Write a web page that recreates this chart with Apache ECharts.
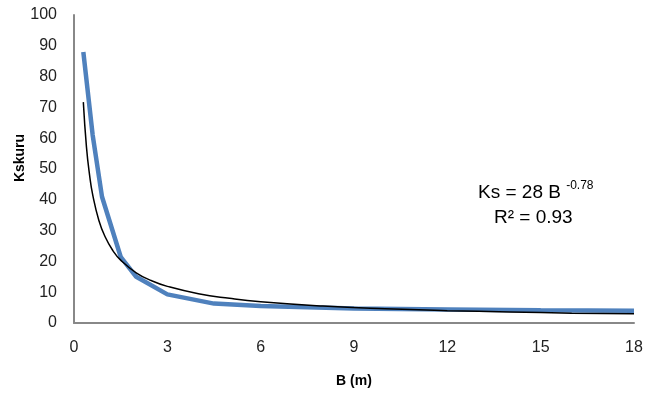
<!DOCTYPE html>
<html>
<head>
<meta charset="utf-8">
<script src="https://cdn.jsdelivr.net/npm/echarts@6/dist/echarts.min.js"></script>
<style>
  html, body { margin: 0; padding: 0; background: #fff; }
  #main { width: 645px; height: 394px; }
</style>
</head>
<body>
<div id="main"></div>
<script>
// measured Kskuru values (blue)
var measB = [0.3, 0.6, 0.9, 1.5, 2, 3, 4.5, 6, 9, 12, 15, 18]
var measKs = [88, 61, 41, 21.5, 15, 9.3, 6.3, 5.5, 4.7, 4.4, 4.1, 4.0]

// power trend line (black)
var trendB = [0.3, 0.4, 0.5, 0.6, 0.8, 1, 1.25, 1.5, 2, 2.5, 3, 4, 5, 6, 8, 10, 12, 14, 16, 18]
var trendKs = [71.7, 57.2, 48.1, 41.7, 33.3, 28, 23.5, 20.4, 16.3, 13.7, 11.9, 9.5, 8.0, 6.9, 5.5, 4.6, 4.0, 3.6, 3.2, 3.0]

var xTicks = [0, 3, 6, 9, 12, 15, 18]
var yTicks = [0, 10, 20, 30, 40, 50, 60, 70, 80, 90, 100]

var pairs = function(xs, ys) {
    var out = []
    for (var i = 0; i < xs.length; i++) {
        out.push([xs[i], ys[i]])
    }
    return out
}

var font = 'Liberation Sans'
var mychart = echarts.init(document.getElementById('main'))
mychart.setOption({
    animation: false,
    grid: { left: 74, right: 11, top: 15, bottom: 71, containLabel: false, outerBoundsMode: 'none' },
    xAxis: {
        type: 'value',
        min: xTicks[0],
        max: xTicks[xTicks.length - 1],
        interval: 3,
        name: 'B (m)',
        nameLocation: 'middle',
        nameGap: 51,
        nameTextStyle: { fontFamily: font, fontWeight: 'bold', fontSize: 14, color: '#000' },
        axisLine: { lineStyle: { color: '#888', width: 2 } },
        axisTick: { show: false },
        splitLine: { show: false },
        axisLabel: { fontFamily: font, fontSize: 16, color: '#222', margin: 17 }
    },
    yAxis: {
        type: 'value',
        min: yTicks[0],
        max: yTicks[yTicks.length - 1],
        interval: 10,
        name: 'Kskuru',
        nameLocation: 'middle',
        nameGap: 47,
        nameMoveOverlap: false,
        nameTextStyle: { fontFamily: font, fontWeight: 'bold', fontSize: 14, color: '#000', padding: [0, 0, 0, 22] },
        axisLine: { show: true, lineStyle: { color: '#888', width: 2 } },
        axisTick: { show: false },
        splitLine: { show: false },
        axisLabel: { fontFamily: font, fontSize: 16, color: '#222', margin: 17 }
    },
    series: [
        {
            type: 'line',
            data: pairs(trendB, trendKs),
            smooth: true,
            showSymbol: false,
            lineStyle: { color: '#000', width: 1.5 },
            z: 3
        },
        {
            type: 'line',
            data: pairs(measB, measKs),
            showSymbol: false,
            lineStyle: { color: '#4F81BD', width: 4.5 },
            z: 2
        }
    ],
    graphic: [
        {
            type: 'text',
            left: 478,
            top: 180,
            style: {
                text: '{m|Ks = 28 B }{s|-0.78}',
                rich: {
                    m: { fontFamily: font, fontSize: 19, fill: '#000', verticalAlign: 'bottom' },
                    s: { fontFamily: font, fontSize: 12, fill: '#000', verticalAlign: 'top', padding: [0, 0, 10, 0] }
                }
            }
        },
        {
            type: 'text',
            left: 494,
            top: 208,
            style: {
                text: 'R² = 0.93',
                fontFamily: font,
                fontSize: 19,
                fill: '#000'
            }
        }
    ]
})
</script>
</body>
</html>
